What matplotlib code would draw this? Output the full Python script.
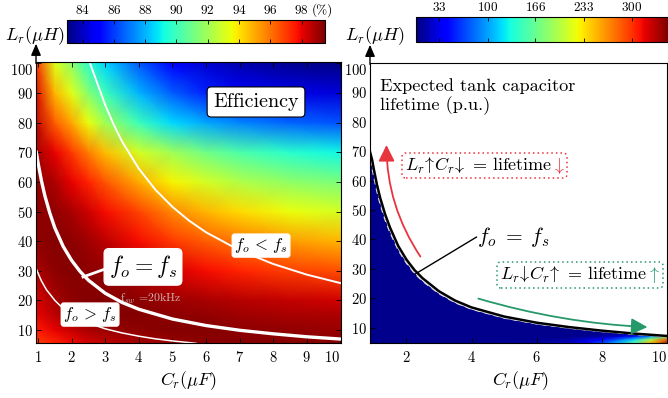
import numpy as np
import matplotlib
matplotlib.use('Agg')
import matplotlib.pyplot as plt
from matplotlib.offsetbox import TextArea, HPacker, AnnotationBbox
from matplotlib.patches import FancyArrowPatch
import matplotlib.cm as cm
import matplotlib.colors as mcolors

plt.rcParams.update({'font.family': 'serif', 'font.serif': ['cmr10'],
                     'mathtext.fontset': 'cm', 'axes.unicode_minus': False,
                     'axes.formatter.use_mathtext': True})

# ---------------- data ----------------
# efficiency map (%) read on a coarse grid
eff_cr = [0.9, 1.5, 2, 2.5, 3, 4, 5, 6, 7, 8.5, 10.1]
eff_lr = [5, 10, 15, 20, 30, 40, 50, 60, 70, 80, 90, 100]
efficiency = [
    [96.8, 97.3, 97.8, 98.2, 98.5, 98.9, 99.1, 99.3, 99.4, 99.4, 99.4],
    [97.5, 98.0, 98.5, 98.9, 99.1, 99.3, 99.4, 99.4, 99.3, 99.2, 99.1],
    [97.9, 98.6, 99.0, 99.3, 99.4, 99.4, 99.3, 99.2, 99.0, 98.9, 98.8],
    [98.2, 98.9, 99.3, 99.4, 99.4, 99.3, 99.1, 98.9, 98.7, 98.5, 98.3],
    [98.8, 99.3, 99.4, 99.3, 99.2, 98.8, 98.3, 97.8, 97.4, 96.9, 96.6],
    [99.2, 99.4, 99.3, 99.0, 98.6, 97.8, 97.0, 96.4, 95.9, 95.3, 94.8],
    [99.3, 99.2, 98.9, 98.4, 97.8, 96.8, 95.6, 94.8, 94.2, 93.5, 93.0],
    [99.2, 98.8, 98.0, 97.4, 96.5, 95.0, 93.7, 93.0, 92.3, 91.7, 91.2],
    [99.0, 98.0, 97.0, 95.8, 94.7, 93.0, 92.0, 91.0, 90.3, 89.6, 89.1],
    [98.6, 96.4, 95.1, 93.5, 92.0, 90.0, 88.6, 87.8, 87.2, 86.7, 86.4],
    [98.2, 94.8, 93.3, 91.5, 90.0, 88.0, 86.6, 85.6, 85.0, 84.5, 84.3],
    [97.5, 93.2, 91.7, 89.7, 88.5, 86.5, 85.0, 84.2, 83.7, 83.3, 83.1],
]
eff_ticks = [84, 86, 88, 90, 92, 94, 96, 98]

# lifetime map (p.u.)
lt_cr = [0.85, 2, 4, 6, 7, 7.5, 8, 8.5, 9, 9.5, 10.1]
lt_lr = [4.5, 6, 7, 8, 10, 100]
lifetime = [
    [5, 5, 5, 10, 25, 45, 75, 115, 170, 260, 340],
    [5, 5, 5, 6, 12, 25, 45, 75, 120, 200, 300],
    [5, 5, 5, 5, 5, 8, 15, 30, 55, 100, 200],
    [5, 5, 5, 5, 5, 5, 5, 5, 8, 15, 30],
    [5, 5, 5, 5, 5, 5, 5, 5, 5, 5, 5],
    [5, 5, 5, 5, 5, 5, 5, 5, 5, 5, 5],
]
lt_ticks = [33, 100, 166, 233, 300]

# resonance curves (left)
eq_cr = [0.95, 1.0, 1.1, 1.2, 1.35, 1.5, 1.75, 2.0, 2.25, 2.5, 3.0, 3.5, 4.0, 5.0, 6.0, 7.0, 8.0, 9.0, 10.05]
eq_lr = [70, 66.5, 60.5, 55.5, 49.5, 44.5, 38.2, 33.5, 29.8, 26.8, 22.4, 19.3, 17.0, 13.7, 11.5, 9.9, 8.7, 7.7, 6.9]
gt_cr = [0.92, 1.0, 1.1, 1.25, 1.5, 1.75, 2.0, 2.5, 3.0, 3.5, 4.0, 4.5, 5.0, 5.7]
gt_lr = [31.5, 29.2, 26.6, 23.6, 20.0, 17.2, 15.2, 12.3, 10.4, 9.0, 7.9, 7.0, 6.3, 5.5]
lt_cr_curve = [2.55, 2.75, 3.0, 3.25, 3.5, 4.0, 4.5, 5.0, 5.5, 6.0, 7.0, 8.0, 9.0, 10.05]
lt_lr_curve = [100, 93.8, 86, 79.4, 73.7, 64.5, 57.3, 51.6, 46.9, 43, 36.9, 32.3, 28.7, 25.7]

# resonance curve (right) and edge of lifetime region
r_cr = [0.88, 0.95, 1.0, 1.1, 1.2, 1.35, 1.5, 1.75, 2.0, 2.25, 2.5, 3.0, 3.5, 4.0, 5.0, 6.0, 7.0, 8.0, 9.0, 10.05]
r_lr = [70, 67, 64, 58.5, 54, 48.5, 44, 37.8, 33.2, 29.6, 26.8, 22.4, 19.2, 16.9, 13.8, 11.7, 10.2, 9.0, 8.0, 7.15]
r_edge = [67, 64.2, 61.3, 56.2, 51.8, 46.6, 42.3, 36.4, 32.0, 28.5, 25.8, 21.6, 18.5, 16.3, 13.3, 11.3, 9.85, 8.7, 7.75, 6.9]

RED = '#e8343c'
GREEN = '#26996a'

fig = plt.figure(figsize=(6.68, 3.98), dpi=100)
W, H = 668.0, 398.0

ax1 = fig.add_axes([36 / W, 55 / H, 305 / W, 281 / H])
ax2 = fig.add_axes([370 / W, 55 / H, 297 / W, 280 / H])

# ---------- left: efficiency ----------
pcm = ax1.pcolormesh(eff_cr, eff_lr, np.array(efficiency), shading='gouraud',
                     cmap='jet', vmin=83, vmax=99.5, zorder=1)
ax1.plot(eq_cr, eq_lr, color='white', lw=2.4, zorder=3)
ax1.plot(gt_cr, gt_lr, color='white', lw=1.1, zorder=3)
ax1.plot(lt_cr_curve, lt_lr_curve, color='white', lw=1.4, zorder=3)
ax1.set_xlim(0.94, 10.02)
ax1.set_ylim(5.6, 100.5)
ax1.set_xticks(range(1, 11))
ax1.set_yticks(range(10, 101, 10))

ax1.text(7.49, 87.0, 'Efficiency', fontsize=14.5, ha='center', va='center', zorder=5,
         bbox=dict(boxstyle='round,pad=0.3,rounding_size=0.2', fc='white', ec='black', lw=0.8))
ax1.plot([2.34, 3.0], [27.9, 30.6], color='white', lw=2, zorder=4)
ax1.text(4.125, 31.3, r'$f_o = f_s$', fontsize=17, ha='center', va='center', zorder=5,
         bbox=dict(boxstyle='round,pad=0.2,rounding_size=0.2', fc='white', ec='white'))
ax1.text(2.55, 15.2, r'$f_o\,>\,f_s$', fontsize=12, ha='center', va='center', zorder=5,
         bbox=dict(boxstyle='round,pad=0.12,rounding_size=0.15', fc='white', ec='white'))
ax1.text(7.64, 38.5, r'$f_o\,<\,f_s$', fontsize=12, ha='center', va='center', zorder=5,
         bbox=dict(boxstyle='round,pad=0.12,rounding_size=0.15', fc='white', ec='white'))
ax1.text(3.44, 20.5, r'$\mathrm{f}_{sw}$ =20kHz', fontsize=8.5, ha='left', va='center',
         color='#d8c8c8', alpha=0.9, zorder=4)

# ---------- right: lifetime ----------
norm_lt = mcolors.Normalize(vmin=0, vmax=350)
ax2.pcolormesh(lt_cr, lt_lr, np.array(lifetime), shading='gouraud', cmap='jet',
               norm=norm_lt, zorder=1)
ax2.fill_between(r_cr, r_edge, 105, color='white', lw=0, zorder=2)
ax2.plot(r_cr, r_edge, color='#e0e0e0', lw=1.0, ls=(0, (4, 3)), zorder=3)
ax2.plot(r_cr, r_lr, color='black', lw=1.8, zorder=4)
ax2.set_xlim(0.884, 10.0)
ax2.set_ylim(4.8, 100)
ax2.set_xticks([2, 4, 6, 8, 10])
ax2.set_yticks(range(10, 101, 10))

ax2.text(1.19, 88.6, 'Expected tank capacitor\nlifetime (p.u.)', fontsize=13.2,
         ha='left', va='center', linespacing=1.2, zorder=5)
ax2.plot([2.28, 4.15], [28.3, 40.8], color='black', lw=1.0, zorder=5)
ax2.text(5.29, 40.9, r'$f_o\;=\;f_s$', fontsize=15.5, ha='center', va='center', zorder=5)


def boxed(ax, xy, arrows_color, arrow_sym, final_sym):
    t1 = TextArea(r'$L_r\!' + arrow_sym[0] + r'\!C_r\!' + arrow_sym[1]
                  + r'\,=\,\mathrm{lifetime}$',
                  textprops=dict(fontsize=13, color='black'))
    t2 = TextArea(r'$' + final_sym + r'$', textprops=dict(fontsize=13, color=arrows_color))
    pk = HPacker(children=[t1, t2], align='baseline', pad=0, sep=-1)
    ab = AnnotationBbox(pk, xy, xycoords='data', frameon=True, pad=0.2, zorder=6,
                        bboxprops=dict(boxstyle='round,pad=0.2,rounding_size=0.3', fc='white',
                                       ec=arrows_color, ls=(0, (1, 2)), lw=1.1))
    ax.add_artist(ab)


boxed(ax2, (4.40, 65.1), RED, (r'\uparrow', r'\downarrow'), r'\downarrow')
boxed(ax2, (7.33, 27.9), GREEN, (r'\downarrow', r'\uparrow'), r'\uparrow')

arr_r = FancyArrowPatch((2.43, 34.2), (1.39, 72.1), connectionstyle='arc3,rad=-0.15',
                        arrowstyle='-|>,head_length=0.7,head_width=0.35', mutation_scale=14,
                        color=RED, lw=1.3, zorder=5, shrinkA=0, shrinkB=0)
ax2.add_patch(arr_r)
arr_g = FancyArrowPatch((4.21, 19.9), (9.40, 10.2), connectionstyle='arc3,rad=0.06',
                        arrowstyle='-|>,head_length=0.7,head_width=0.35', mutation_scale=14,
                        color=GREEN, lw=1.3, zorder=5, shrinkA=0, shrinkB=0)
ax2.add_patch(arr_g)

# ---------- axes styling ----------
for ax in (ax1, ax2):
    ax.tick_params(direction='in', top=True, right=True, length=3.5, width=0.6,
                   labelsize=10.5, color='black')
    ax.tick_params(axis='x', pad=5)
    ax.tick_params(axis='y', pad=2)
    for s in ax.spines.values():
        s.set_linewidth(0.8)
        s.set_zorder(10)
    ax.annotate('', xy=(0, 1.065), xycoords='axes fraction', xytext=(0, 0.995),
                arrowprops=dict(arrowstyle='-|>,head_length=0.7,head_width=0.3',
                                color='black', lw=1.0, shrinkA=0, shrinkB=0,
                                mutation_scale=10),
                annotation_clip=False)

fig.canvas.draw()
for ax in (ax1, ax2):
    labs = ax.get_yticklabels()
    labs[-1].set_verticalalignment('top')
    xl = ax.get_xticklabels()
    xl[-1].set_horizontalalignment('right')

fig.text(35 / W, 1 - 36 / H, r'$L_r(\mu H)$', fontsize=13, ha='center', va='center')
fig.text(375 / W, 1 - 36 / H, r'$L_r(\mu H)$', fontsize=13, ha='center', va='center')
fig.text(188 / W, 1 - 381 / H, r'$C_r(\mu F)$', fontsize=13, ha='center', va='center')
fig.text(520 / W, 1 - 381 / H, r'$C_r(\mu F)$', fontsize=13, ha='center', va='center')

# ---------- colorbars ----------
cax1 = fig.add_axes([67 / W, (H - 43) / H, 258 / W, 23 / H])
cb1 = fig.colorbar(pcm, cax=cax1, orientation='horizontal', ticks=eff_ticks)
cax1.tick_params(axis='x', direction='in', top=True, bottom=True, labeltop=True,
                 labelbottom=False, length=3, width=0.6, labelsize=9.5, pad=2)
cb1.outline.set_linewidth(0.8)
fig.text(322 / W, 1 - 10 / H, '(%)', fontsize=9.5, ha='center', va='center')

cax2 = fig.add_axes([415.7 / W, (H - 42) / H, (668 - 415.7) / W, 25 / H])
sm = cm.ScalarMappable(norm=norm_lt, cmap='jet')
cb2 = fig.colorbar(sm, cax=cax2, orientation='horizontal', ticks=lt_ticks)
cax2.tick_params(axis='x', direction='in', top=True, bottom=True, labeltop=True,
                 labelbottom=False, length=3, width=0.6, labelsize=9.5, pad=2)
cb2.outline.set_linewidth(0.8)

fig.savefig('out.png', dpi=100)
